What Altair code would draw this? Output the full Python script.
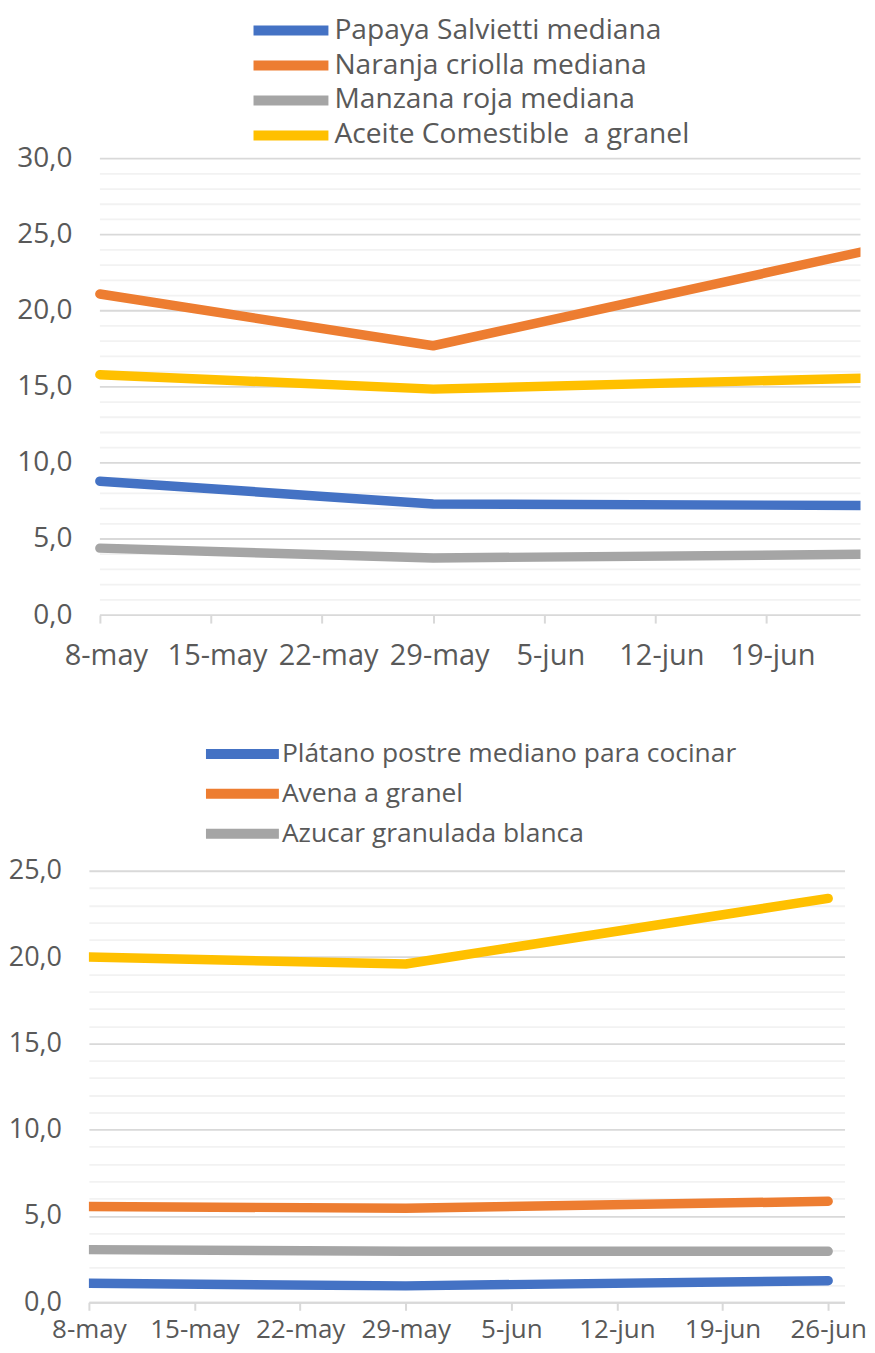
import json
import altair as alt
import pandas as pd

# ---------------- data ----------------
fechas = ["8-may", "15-may", "22-may", "29-may", "5-jun", "12-jun", "19-jun", "26-jun"]
puntos = ["8-may", "29-may", "26-jun"]

series_sup = [
    "Papaya Salvietti mediana",
    "Naranja criolla mediana",
    "Manzana roja mediana",
    "Aceite Comestible\u00a0 a granel",
]
papaya = [8.8, 7.3, 7.2]
naranja = [21.1, 17.7, 24.1]
manzana = [4.4, 3.75, 4.0]
aceite = [15.8, 14.85, 15.6]

series_inf = [
    "Plátano postre mediano para cocinar",
    "Avena a granel",
    "Azucar granulada blanca",
    "Serie 4",
]
platano = [1.1, 0.95, 1.25]
avena = [5.55, 5.45, 5.85]
azucar = [3.05, 2.95, 2.95]
serie4 = [20.0, 19.6, 23.4]

colores = ["#4472C4", "#ED7D31", "#A5A5A5", "#FFC000"]

TXT = "#595959"
FONT = "Open Sans"
MAYOR = "#D9D9D9"
MENOR = "#F2F2F2"


def tabla(nombres, valores):
    filas = []
    for n, vals in zip(nombres, valores):
        for f, v in zip(puntos, vals):
            filas.append({"serie": n, "fecha": f, "idx": fechas.index(f), "valor": v})
    return pd.DataFrame(filas)


ylabel_expr = "replace(format(datum.value, '.1f'), '.', ',')"
xlabel_expr = json.dumps(fechas, ensure_ascii=False) + "[datum.value]"


def x_enc(dom, nticks, pad, fsize, domain_line, loff):
    return alt.X(
        "idx:Q",
        scale=alt.Scale(domain=dom, nice=False, zero=False),
        axis=alt.Axis(
            values=list(range(0, nticks)),
            labelExpr=xlabel_expr,
            grid=False,
            domain=domain_line,
            domainColor=MAYOR,
            domainWidth=2,
            tickColor=MAYOR,
            tickWidth=2,
            tickSize=8,
            labelFontSize=fsize,
            labelColor=TXT,
            labelFont=FONT,
            labelPadding=pad,
            labelOffset=loff,
            labelOverlap=False,
            labelFlush=False,
            title=None,
        ),
    )


def leyenda(vals, lx, ly, fsize, row, off, path):
    return alt.Legend(
        orient="none",
        legendX=lx,
        legendY=ly,
        title=None,
        values=vals,
        symbolType=path,
        symbolSize=400,
        symbolStrokeWidth=10,
        labelFontSize=fsize,
        labelColor=TXT,
        labelFont=FONT,
        labelOffset=off,
        labelLimit=0,
        rowPadding=row,
        padding=0,
    )


# ---------------- top panel ----------------
df_sup = tabla(series_sup, [papaya, naranja, manzana, aceite])
dom_sup = [-0.0988, 6.846]
grid_sup = pd.DataFrame({"valor": list(range(0, 31))})

lineas_sup = alt.Chart(df_sup).mark_line(
    strokeWidth=9.5, strokeCap="round", strokeJoin="round", clip=True
).encode(
    x=x_enc(dom_sup, 7, 18, 29, False, 6),
    y=alt.Y(
        "valor:Q",
        scale=alt.Scale(domain=[0, 30], nice=False),
        axis=alt.Axis(
            values=list(range(0, 31, 5)),
            grid=False,
            domain=False,
            ticks=False,
            labelExpr=ylabel_expr,
            labelFontSize=28,
            labelColor=TXT,
            labelFont=FONT,
            labelPadding=17,
            labelOverlap=False,
            title=None,
        ),
    ),
    color=alt.Color(
        "serie:N",
        scale=alt.Scale(domain=series_sup, range=colores),
        sort=series_sup,
        legend=leyenda(series_sup, 187.3, -143.2, 28.2, -8, 28.5, "M-3.75,0L3.75,0"),
    ),
    detail="serie:N",
    order="idx:Q",
)

reglas_menor = (
    alt.Chart(grid_sup)
    .transform_filter("datum.valor % 5 !== 0")
    .mark_rule(strokeWidth=1.8, color=MENOR)
    .encode(y="valor:Q", x=alt.datum(0), x2=alt.datum(dom_sup[1]))
)
reglas_mayor = (
    alt.Chart(grid_sup)
    .transform_filter("datum.valor % 5 === 0")
    .mark_rule(strokeWidth=1.8, color=MAYOR)
    .encode(y="valor:Q", x=alt.datum(0), x2=alt.datum(dom_sup[1]))
)

arriba = alt.layer(reglas_menor, reglas_mayor, lineas_sup).properties(width=772.5, height=457)

# ---------------- bottom panel ----------------
df_inf = tabla(series_inf, [platano, avena, azucar, serie4])

abajo = (
    alt.Chart(df_inf)
    .mark_line(strokeWidth=9.5, strokeCap="round", strokeJoin="round", clip=True)
    .encode(
        x=x_enc([0, 7.155], 8, 6, 26, True, 0),
        y=alt.Y(
            "valor:Q",
            scale=alt.Scale(domain=[0, 25], nice=False),
            axis=alt.Axis(
                values=list(range(0, 26)),
                grid=True,
                gridColor={"condition": {"test": "datum.value % 5 === 0", "value": MAYOR},
                           "value": MENOR},
                gridWidth=1.8,
                domain=False,
                ticks=False,
                labelExpr="datum.value % 5 === 0 ? " + ylabel_expr + " : ''",
                labelFontSize=27,
                labelColor=TXT,
                labelFont=FONT,
                labelPadding=27.5,
                labelOverlap=False,
                title=None,
            ),
        ),
        color=alt.Color(
            "serie:N",
            scale=alt.Scale(domain=series_inf, range=colores),
            sort=series_inf,
            legend=leyenda(series_inf[:3], 138.7, -132, 26.4, 0, 24.5, "M-3.65,0L3.65,0"),
        ),
        detail="serie:N",
        order="idx:Q",
    )
    .properties(width=756.5, height=432)
)

chart = (
    alt.concat(arriba, abajo, columns=1, spacing=69)
    .resolve_scale(color="independent", x="independent", y="independent")
    .resolve_legend(color="independent")
    .properties(padding={"left": 0, "top": 6, "right": 0, "bottom": 2})
    .configure_view(strokeWidth=0)
)

chart.save("out.html", embed_options={"renderer": "svg", "actions": False})
